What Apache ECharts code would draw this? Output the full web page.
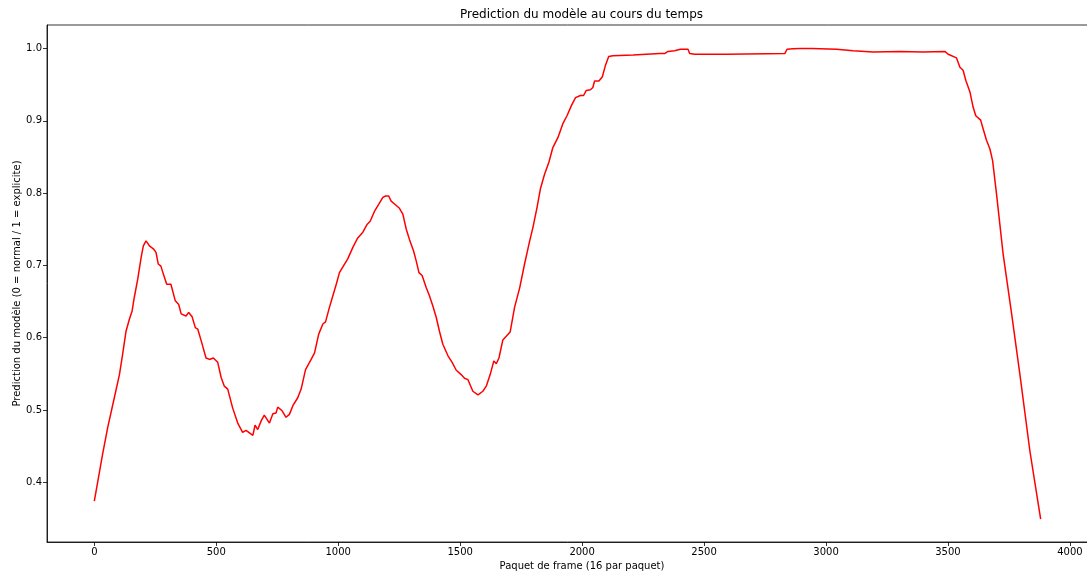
<!DOCTYPE html>
<html>
<head>
<meta charset="utf-8">
<script src="https://cdn.jsdelivr.net/npm/echarts@6/dist/echarts.min.js"></script>
<style>html,body{margin:0;padding:0;background:#fff;overflow:hidden}#c{width:1087px;height:574px}</style>
</head>
<body>
<div id="c"></div>
<script>
const titleText = 'Prediction du modèle au cours du temps';
const xAxisName = 'Paquet de frame (16 par paquet)';
const yAxisName = 'Prediction du modèle (0 = normal / 1 = explicite)';
const xTicks = [0, 500, 1000, 1500, 2000, 2500, 3000, 3500, 4000];
const yTicks = [0.4, 0.5, 0.6, 0.7, 0.8, 0.9, 1.0];

const packets = [0,34,55,82,103,116,130,144,155,164,178,192,201,212,226,242,253,262,273,283,297,314,332,346,356,376,387,401,414,424,438,458,472,488,506,520,533,547,567,588,608,622,650,659,670,684,697,718,732,745,752,770,786,800,814,834,848,866,889,903,920,937,948,964,978,992,1005,1021,1039,1060,1080,1101,1119,1131,1149,1167,1183,1194,1207,1217,1231,1251,1265,1279,1292,1309,1320,1331,1344,1361,1374,1388,1402,1415,1429,1450,1467,1484,1504,1518,1532,1552,1573,1593,1607,1623,1638,1648,1659,1675,1689,1705,1723,1744,1764,1785,1798,1815,1829,1846,1864,1880,1901,1921,1938,1956,1973,1993,2006,2017,2034,2044,2051,2069,2083,2095,2109,2126,2209,2318,2338,2352,2379,2403,2434,2441,2462,2592,2831,2840,2865,2892,2943,3043,3111,3193,3303,3398,3487,3501,3535,3549,3562,3573,3590,3603,3614,3634,3644,3658,3672,3683,3699,3726,3761,3795,3836,3880];
const predictions = [0.374,0.439,0.476,0.517,0.549,0.577,0.609,0.626,0.637,0.656,0.681,0.711,0.727,0.734,0.727,0.723,0.718,0.702,0.699,0.688,0.674,0.674,0.651,0.646,0.633,0.630,0.635,0.629,0.614,0.612,0.596,0.572,0.570,0.572,0.566,0.545,0.533,0.529,0.503,0.482,0.469,0.472,0.465,0.479,0.473,0.485,0.493,0.482,0.495,0.496,0.504,0.499,0.490,0.494,0.506,0.517,0.529,0.556,0.570,0.579,0.605,0.619,0.622,0.642,0.658,0.674,0.690,0.699,0.709,0.725,0.738,0.746,0.757,0.761,0.775,0.785,0.794,0.796,0.796,0.789,0.785,0.779,0.771,0.750,0.736,0.720,0.706,0.690,0.686,0.669,0.658,0.644,0.628,0.609,0.591,0.575,0.566,0.555,0.549,0.544,0.542,0.526,0.521,0.526,0.533,0.549,0.568,0.564,0.572,0.597,0.602,0.608,0.642,0.669,0.702,0.734,0.752,0.780,0.806,0.826,0.843,0.863,0.877,0.896,0.907,0.921,0.932,0.935,0.935,0.942,0.943,0.946,0.955,0.955,0.961,0.976,0.989,0.990,0.991,0.993,0.993,0.996,0.997,0.999,0.999,0.993,0.992,0.992,0.993,0.999,0.9995,1.000,1.000,0.999,0.997,0.995,0.996,0.995,0.996,0.992,0.987,0.974,0.970,0.956,0.940,0.919,0.907,0.901,0.889,0.873,0.861,0.845,0.799,0.716,0.633,0.549,0.443,0.349];

const font = 'DejaVu Sans';
const chart = echarts.init(document.getElementById('c'), null, {renderer: 'canvas'});
chart.setOption({
  animation: false,
  backgroundColor: '#fff',
  title: {
    text: titleText, left: 460, top: 9, padding: 0,
    textStyle: {fontFamily: font, fontSize: 12, fontWeight: 'normal', color: '#000'}
  },
  grid: {left: 47, top: 25, width: 1070, height: 517, show: true, borderColor: '#000', borderWidth: 0.8,
    containLabel: false, outerBoundsMode: 'none'},
  xAxis: {
    type: 'value', min: -194, max: 4193,
    name: xAxisName, nameLocation: 'middle', nameGap: 19, nameMoveOverlap: false,
    nameTextStyle: {fontFamily: font, fontSize: 10, color: '#000'},
    axisLine: {show: true, onZero: false, lineStyle: {color: '#000', width: 0.8}},
    axisTick: {show: true, length: 4, customValues: xTicks, lineStyle: {color: '#000', width: 0.8}},
    axisLabel: {customValues: xTicks, fontFamily: font, fontSize: 10, color: '#000', margin: 5,
      formatter: v => String(v)},
    splitLine: {show: false}
  },
  yAxis: {
    type: 'value', min: 0.3175, max: 1.0325,
    name: yAxisName, nameLocation: 'middle', nameGap: 25, nameRotate: 90, nameMoveOverlap: false,
    nameTextStyle: {fontFamily: font, fontSize: 10, color: '#000'},
    axisLine: {show: true, onZero: false, lineStyle: {color: '#000', width: 0.8}},
    axisTick: {show: true, length: 4, customValues: yTicks, lineStyle: {color: '#000', width: 0.8}},
    axisLabel: {customValues: yTicks, fontFamily: font, fontSize: 10, color: '#000', margin: 5,
      formatter: v => v.toFixed(1)},
    splitLine: {show: false}
  },
  series: [{
    type: 'line', showSymbol: false, symbol: 'none',
    data: packets.map((p, i) => [p, predictions[i]]),
    lineStyle: {color: '#ff0000', width: 1.5},
    itemStyle: {color: '#ff0000'}
  }]
});
</script>
</body>
</html>
